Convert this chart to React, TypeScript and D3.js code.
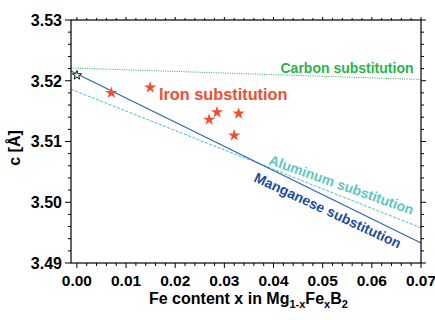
import React from 'react';
import * as d3 from 'd3';

// Iron-substituted samples (Fe content x, lattice parameter c)
const ironX = [0.007, 0.0149, 0.0269, 0.0285, 0.0329, 0.032];
const ironC = [3.518, 3.5189, 3.5136, 3.5148, 3.5146, 3.511];
// pure MgB2 reference point
const pureX = [0.0];
const pureC = [3.5209];

// reference trend lines (two end points each)
const lineX = [-0.0012, 0.07];
const carbonC = [3.5221, 3.5202];
const aluminumC = [3.5186, 3.4958];
const manganeseC = [3.5216, 3.4933];

const xTicks = [0, 0.01, 0.02, 0.03, 0.04, 0.05, 0.06, 0.07];
const yTicks = [3.49, 3.5, 3.51, 3.52, 3.53];

const W = 435;
const H = 320;
const margin = { top: 20, right: 14, bottom: 57, left: 71 };
const font = 'Liberation Sans, Arial, sans-serif';

const App = () => {
  const x = d3.scaleLinear().domain([-0.0012, 0.07]).range([margin.left, W - margin.right]);
  const y = d3.scaleLinear().domain([3.49, 3.53]).range([H - margin.bottom, margin.top]);
  const x0 = x.range()[0], x1 = x.range()[1];
  const y0 = y.range()[0], y1 = y.range()[1];

  const minorX = d3.range(0, 0.0701, 0.002).filter(v => Math.abs(Math.round(v * 100) - v * 100) > 1e-6);
  const minorY = d3.range(3.49, 3.5301, 0.002).filter(v => Math.abs(Math.round(v * 100) - v * 100) > 1e-6);

  const line = d3.line<[number, number]>().x(d => x(d[0])).y(d => y(d[1]));
  const pts = (cs: number[]) => lineX.map((v, i) => [v, cs[i]] as [number, number]);

  const bigStar = d3.symbol().type(d3.symbolStar).size(46)()!;
  const smallStar = d3.symbol().type(d3.symbolStar).size(26)()!;

  return (
    <svg width={W} height={H} style={{ position: 'absolute', left: 0, top: 0 }} fontFamily={font}>
      <rect width={W} height={H} fill="#fff" />

      {/* trend lines */}
      <path d={line(pts(carbonC))!} fill="none" stroke="#2cb34a" strokeWidth={1} strokeDasharray="1,1.3" />
      <path d={line(pts(aluminumC))!} fill="none" stroke="#45c3c0" strokeWidth={1} strokeDasharray="3,1.5" />
      <path d={line(pts(manganeseC))!} fill="none" stroke="#2a5fbf" strokeWidth={1.1} />

      {/* frame */}
      <rect x={x0} y={y1} width={x1 - x0} height={y0 - y1} fill="none" stroke="#000" strokeWidth={1.2} />

      {/* x ticks */}
      {xTicks.map(t => (
        <g key={'x' + t}>
          <line x1={x(t)} x2={x(t)} y1={y0} y2={y0 + 5} stroke="#000" />
          <line x1={x(t)} x2={x(t)} y1={y1} y2={y1 - 3} stroke="#000" />
          <text x={x(t)} y={285.5} textAnchor="middle" fontSize={15.5} fontWeight="bold">{t.toFixed(2)}</text>
        </g>
      ))}
      {minorX.map(t => (
        <g key={'mx' + t}>
          <line x1={x(t)} x2={x(t)} y1={y0} y2={y0 + 3} stroke="#000" />
          <line x1={x(t)} x2={x(t)} y1={y1} y2={y1 - 2} stroke="#000" />
        </g>
      ))}

      {/* y ticks */}
      {yTicks.map(t => (
        <g key={'y' + t}>
          <line x1={x0} x2={x0 - 6} y1={y(t)} y2={y(t)} stroke="#000" />
          <line x1={x1} x2={x1 + 5} y1={y(t)} y2={y(t)} stroke="#000" />
          <text x={62} y={y(t)} dy="0.36em" textAnchor="end" fontSize={16} fontWeight="bold">{t.toFixed(2)}</text>
        </g>
      ))}
      {minorY.map(t => (
        <g key={'my' + t}>
          <line x1={x0} x2={x0 - 3} y1={y(t)} y2={y(t)} stroke="#000" />
          <line x1={x1} x2={x1 + 3} y1={y(t)} y2={y(t)} stroke="#000" />
        </g>
      ))}

      {/* axis titles */}
      <text transform="translate(19.5,148) rotate(-90)" textAnchor="middle" fontSize={16} fontWeight="bold">c [Å]</text>
      <text x={149} y={303.5} fontSize={16} fontWeight="bold">
        Fe content x in Mg
        <tspan fontSize={11} dy={4}>1-x</tspan>
        <tspan dy={-4}>Fe</tspan>
        <tspan fontSize={11} dy={4}>x</tspan>
        <tspan dy={-4}>B</tspan>
        <tspan fontSize={11} dy={4}>2</tspan>
      </text>

      {/* data */}
      {ironX.map((v, i) => (
        <path key={'fe' + i} d={bigStar} transform={`translate(${x(v)},${y(ironC[i])})`} fill="#f04e2f" />
      ))}
      {pureX.map((v, i) => (
        <path key={'p' + i} d={smallStar} transform={`translate(${x(v)},${y(pureC[i])})`} fill="#fff" stroke="#000" strokeWidth={0.9} />
      ))}

      {/* labels */}
      <text x={280.5} y={72.5} fontSize={14} fontWeight="bold" fill="#2cb34a">Carbon substitution</text>
      <text x={159} y={100} fontSize={16.3} fontWeight="bold" fill="#f04e2f">Iron substitution</text>
      <text transform="translate(268,164) rotate(19.5)" fontSize={14} fontWeight="bold" fill="#5cc7bf">Aluminum substitution</text>
      <text transform="translate(253,181) rotate(25)" fontSize={14} fontWeight="bold" fill="#1b4c9e">Manganese substitution</text>
    </svg>
  );
};

export default App;
